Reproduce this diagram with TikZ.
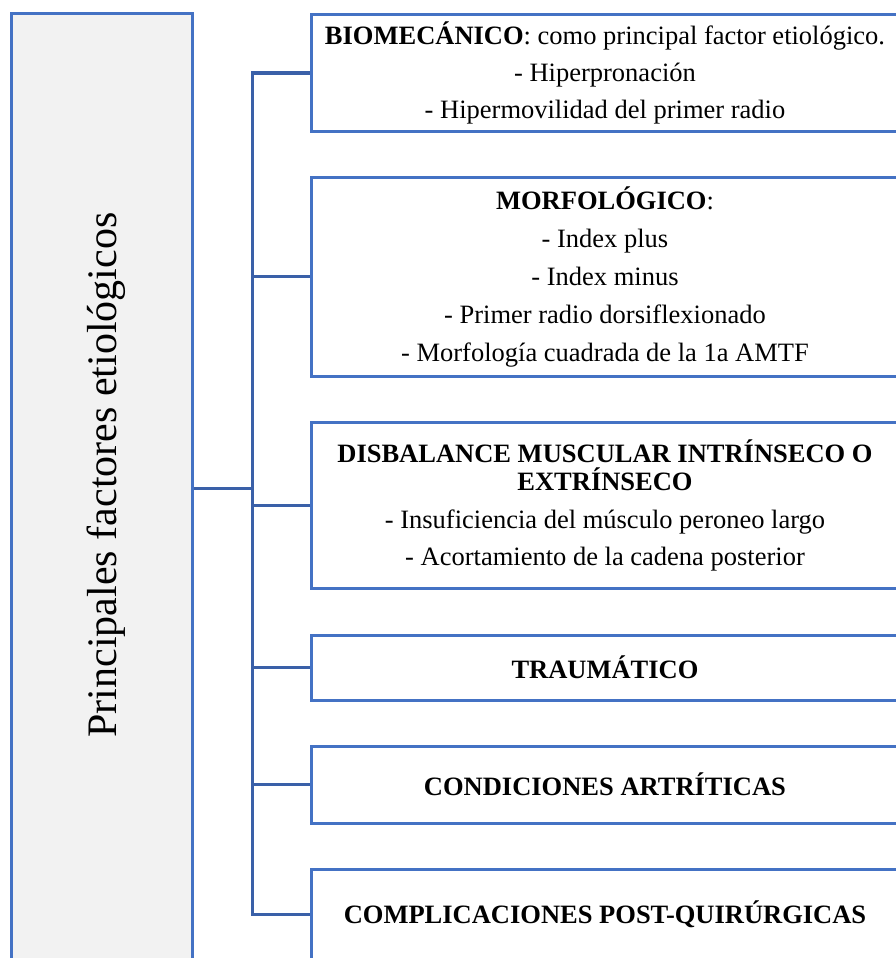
\documentclass[tikz,border=0pt]{standalone}
\usepackage{fontspec}
\setmainfont{Liberation Serif}
\usetikzlibrary{positioning}
\usetikzlibrary{calc}
\definecolor{boxblue}{HTML}{4472C4}
\definecolor{linkblue}{HTML}{3A60A8}
\definecolor{boxgray}{HTML}{F2F2F2}

\begin{document}
\begin{tikzpicture}[x=1pt, y=-1pt,
		factor/.style={draw=boxblue, line width=3pt, fill=white, minimum width=588pt,
			inner sep=0pt, align=center, font=\fontsize{26.5}{37}\selectfont},
		link/.style={draw=linkblue, line width=3pt}]
		\useasboundingbox (0,0) rectangle (895,958);
		\node[draw=boxblue, line width=3pt, fill=boxgray, minimum width=181pt,
			minimum height=948pt, inner sep=0pt] (main) at (101.5,488) {};
		\node[rotate=90, font=\fontsize{42}{46}\selectfont] (title) at (106,475) {Principales factores etiológicos};
		\node[factor, minimum height=116pt] (bio) at (605,73) {\textbf{BIOMECÁNICO}: como principal factor etiológico.\\
			- Hiperpronación\\
			- Hipermovilidad del primer radio};
		\node[factor, minimum height=199pt, font=\fontsize{26.5}{38}\selectfont] (morf) at (605,276.5) {\textbf{MORFOLÓGICO}:\\
			- Index plus\\
			- Index minus\\
			- Primer radio dorsiflexionado\\
			- Morfología cuadrada de la 1a AMTF};
		\node[factor, minimum height=166pt] (dis) at (605,505) {\textbf{DISBALANCE MUSCULAR INTRÍNSECO O}\\[-9pt]
			\textbf{EXTRÍNSECO}\\[1pt]
			- Insuficiencia del músculo peroneo largo\\
			- Acortamiento de la cadena posterior};
		\node[factor, minimum height=65pt] (trau) at (605,667.5) {\textbf{TRAUMÁTICO}};
		\node[factor, minimum height=77pt] (art) at (605,784.5) {\textbf{CONDICIONES ARTRÍTICAS}};
		\node[factor, minimum height=90pt] (cpq) at (605,914) {\textbf{COMPLICACIONES POST-QUIRÚRGICAS}};
		\coordinate (trunk) at (252,488);
		% tree of connectors
		\draw[link] (main.east) -- (trunk);
		\draw[link] (bio.west) -- (bio.west -| trunk) -- (cpq.west -| trunk) -- (cpq.west);
		\foreach \f in {morf,dis,trau,art}
			\draw[link] (\f.west -| trunk) -- (\f.west);
\end{tikzpicture}
\end{document}
